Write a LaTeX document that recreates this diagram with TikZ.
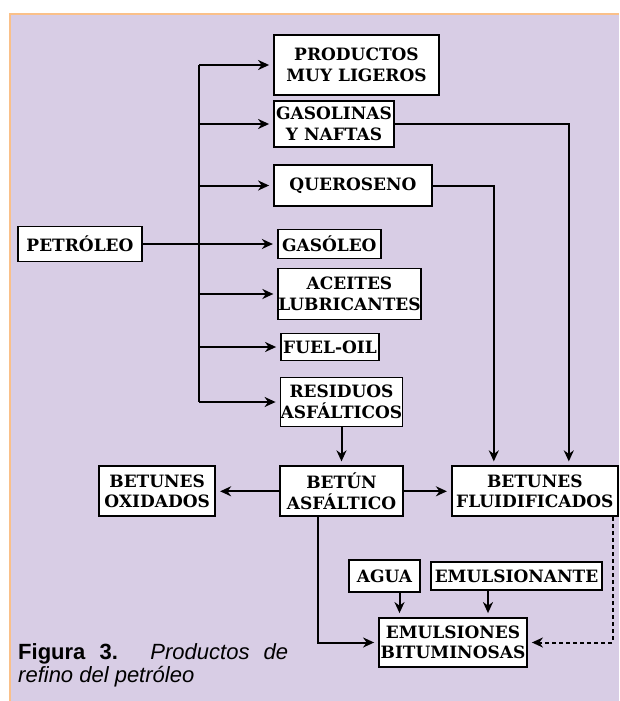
\documentclass[tikz,border=0pt]{standalone}
\usepackage{fontspec}
\setmainfont{Liberation Sans}
\newfontfamily\cajafont{DejaVu Serif}
\usetikzlibrary{positioning,arrows.meta}
\definecolor{lavanda}{RGB}{216,205,229}
\definecolor{naranja}{RGB}{250,192,137}

\begin{document}
\begin{tikzpicture}[x=1pt, y=-1pt,
    box/.style={draw, fill=white, line width=1.8pt, inner xsep=0pt, inner ysep=1pt,
      align=center, font=\cajafont\bfseries\fontsize{17}{20.5}\selectfont},
    line/.style={line width=2pt},
    flow/.style={line, -{Stealth[length=11pt,width=10pt,inset=3.5pt]}, shorten >=4pt},
    caption/.style={align=left, inner sep=0pt, font=\fontsize{22}{23}\selectfont}]
  \useasboundingbox (0,0) rectangle (619,701);
  \fill[white] (0,0) rectangle (619,701);
  \fill[lavanda] (10,14) rectangle (619,701);
  \draw[naranja, line width=2.5pt] (10,701) |- (619,14);

  \node[box, minimum width=124pt, minimum height=35pt] (petroleo) at (80,244) {PETRÓLEO};
  \node[box, minimum width=103pt, minimum height=29pt, right=134pt of petroleo] (gasoleo) {GASÓLEO};
  \node[box, minimum width=165pt, minimum height=60pt] (ligeros) at (356.5,65) {PRODUCTOS\\MUY LIGEROS};
  \node[box, minimum width=120pt, minimum height=46pt] (gasolinas) at (334,124) {GASOLINAS\\Y NAFTAS};
  \node[box, minimum width=158pt, minimum height=41pt] (queroseno) at (353,185.5) {QUEROSENO};
  \node[box, minimum width=141pt, minimum height=51pt] (aceites) at (349.5,294) {ACEITES\\LUBRICANTES};
  \node[box, minimum width=98pt, minimum height=27pt] (fueloil) at (330,347) {FUEL-OIL};
  \node[box, minimum width=122pt, minimum height=49pt] (residuos) at (341.5,402) {RESIDUOS\\ASFÁLTICOS};
  \node[box, minimum width=123pt, minimum height=50pt, below=38pt of residuos] (betun) {BETÚN\\ASFÁLTICO};
  \node[box, minimum width=116pt, minimum height=50pt, left=63pt of betun] (oxidados) {BETUNES\\OXIDADOS};
  \node[box, minimum width=166pt, minimum height=50pt, right=47pt of betun] (fluid) {BETUNES\\FLUIDIFICADOS};
  \node[box, minimum width=148pt, minimum height=49pt] (emulsiones) at (453,642.5) {EMULSIONES\\BITUMINOSAS};
  \node[box, minimum width=71pt, minimum height=32pt] (agua) at (384.5,576) {AGUA};
  \node[box, minimum width=171pt, minimum height=28pt] (emulsionante) at (516.5,576) {EMULSIONANTE};
  \node[caption, anchor=north west] (pie) at (18,643)
    {\makebox[270pt][s]{\textbf{Figura 3.} \textit{Productos de}}\\\textit{refino del petróleo}};

  \coordinate (split) at (199,244);
  \draw[flow] (petroleo) -- (gasoleo);
  \draw[line] (split |- ligeros) -- (split |- residuos);
  \draw[flow] (split |- ligeros) -- (ligeros);
  \draw[flow] (split |- gasolinas) -- (gasolinas);
  \draw[flow] (split |- queroseno) -- (queroseno);
  \draw[flow] (split |- aceites) -- (aceites);
  \draw[flow] (split |- fueloil) -- (fueloil);
  \draw[flow] (split |- residuos) -- (residuos);
  \draw[flow] (gasolinas) -| ([xshift=34pt]fluid.north);
  \draw[flow] (queroseno) -| ([xshift=-41pt]fluid.north);
  \draw[flow] (residuos) -- (betun);
  \draw[flow] (betun) -- (oxidados);
  \draw[flow] (betun) -- (fluid);
  \draw[flow] ([xshift=-23.5pt]betun.south) |- (emulsiones);
  \draw[flow] ([xshift=15pt]agua.south) -- ([xshift=15pt]agua.south |- emulsiones.north);
  \draw[flow] ([xshift=-28.5pt]emulsionante.south) -- ([xshift=-28.5pt]emulsionante.south |- emulsiones.north);
  \draw[flow, dash pattern=on 4pt off 3pt] ([xshift=78pt]fluid.south) |- (emulsiones);
\end{tikzpicture}
\end{document}
